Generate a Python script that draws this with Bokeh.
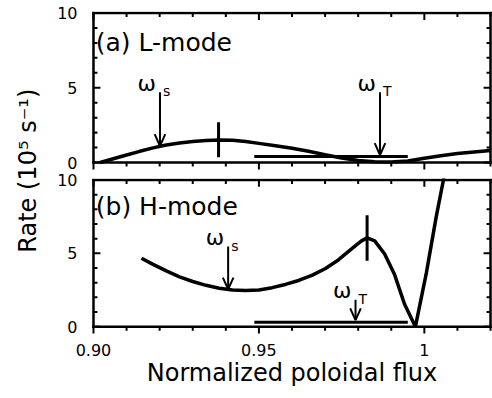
from bokeh.plotting import figure
from bokeh.layouts import row, column
from bokeh.models import Range1d, FixedTicker, Label
from bokeh.core.properties import value
from bokeh.embed import file_html
from bokeh.resources import INLINE

FONT = "DejaVu Sans"

# ---------------- data ----------------
x_major = [0.90, 0.95, 1.00]
x_labels = ["0.90", "0.95", "1"]
x_minor = [0.91, 0.92, 0.93, 0.94, 0.96, 0.97, 0.98, 0.99, 1.01, 1.02]
y_major = [0, 5, 10]
y_labels = ["0", "5", "10"]
y_minor = [1, 2, 3, 4, 6, 7, 8, 9]
X_LO, X_HI = 0.90, 1.02
Y_LO, Y_HI = 0, 10

# (a) L-mode
l_flux = [0.902, 0.906, 0.910, 0.914, 0.918, 0.922, 0.926, 0.930, 0.934, 0.938,
          0.942, 0.946, 0.950, 0.955, 0.960, 0.965, 0.970, 0.975, 0.980, 0.985,
          0.990, 0.995, 1.000, 1.005, 1.010, 1.015, 1.020]
l_rate = [0.00, 0.25, 0.50, 0.75, 0.98, 1.17, 1.31, 1.41, 1.48, 1.51,
          1.49, 1.40, 1.28, 1.12, 0.95, 0.75, 0.52, 0.30, 0.13, 0.05,
          0.04, 0.10, 0.28, 0.46, 0.60, 0.71, 0.80]
l_shear_flux = [0.9486, 0.995]
l_shear_rate = [0.40, 0.40]
l_peak_x = [0.9378]
l_peak_y0 = [0.36]
l_peak_y1 = [2.7]
l_ws_x, l_ws_top, l_ws_tip = 0.9201, 4.7, 1.10
l_wt_x, l_wt_top, l_wt_tip = 0.9866, 4.7, 0.50

# (b) H-mode
h_flux = [0.9145, 0.918, 0.922, 0.926, 0.930, 0.934, 0.938, 0.942, 0.946, 0.950,
          0.954, 0.958, 0.962, 0.966, 0.970, 0.974, 0.978, 0.981, 0.9827, 0.985,
          0.988, 0.991, 0.994, 0.9973, 1.0006, 1.0036, 1.0062]
h_rate = [4.67, 4.25, 3.80, 3.40, 3.08, 2.82, 2.62, 2.50, 2.46, 2.50,
          2.66, 2.88, 3.15, 3.50, 3.95, 4.55, 5.30, 5.85, 6.05, 5.85,
          4.95, 3.55, 1.55, 0.00, 3.65, 7.50, 10.5]
h_shear_flux = [0.9486, 0.995]
h_shear_rate = [0.30, 0.30]
h_peak_x = [0.9827]
h_peak_y0 = [4.5]
h_peak_y1 = [7.6]
h_ws_x, h_ws_top, h_ws_tip = 0.9407, 5.46, 2.55
h_wt_x, h_wt_top, h_wt_tip = 0.9792, 1.84, 0.45

# ---------------- styles / sizes (in axis units) ----------------
PAD_X = 0.0006        # room so the box edges are not clipped
PAD_TOP = 0.1
PAD_BOTTOM = 0.6      # room for the outward ticks below the box
EDGE_X, EDGE_Y = 0.00038, 0.085            # half thickness of the box edges
TW_X, TW_Y = 0.0003, 0.068                 # half thickness of the ticks
TICK_Y, TICK_Y_MINOR = 0.47, 0.27          # tick lengths along rate
TICK_X, TICK_X_MINOR = 0.0021, 0.0012      # tick lengths along flux
HEAD_W = 0.0016       # arrow head half width
HEAD_H = 0.80         # arrow head height


def label_axis(ax, ticks, names, standoff):
    ax.ticker = FixedTicker(ticks=ticks)
    ax.major_label_overrides = {v: s for v, s in zip(ticks, names)}
    ax.major_label_text_font = FONT
    ax.major_label_text_font_size = "16px"
    ax.major_label_text_color = "black"
    ax.major_label_standoff = standoff
    ax.axis_line_color = None
    ax.major_tick_line_color = None
    ax.minor_tick_line_color = None
    ax.major_tick_in = 0
    ax.major_tick_out = 0
    ax.minor_tick_in = 0
    ax.minor_tick_out = 0


def frame_and_ticks(p):
    # box edges as filled bars
    p.quad(left=[X_LO - EDGE_X, X_LO - EDGE_X, X_LO - EDGE_X, X_HI - EDGE_X],
           right=[X_HI + EDGE_X, X_HI + EDGE_X, X_LO + EDGE_X, X_HI + EDGE_X],
           bottom=[Y_LO - EDGE_Y, Y_HI - EDGE_Y, Y_LO - EDGE_Y, Y_LO - EDGE_Y],
           top=[Y_LO + EDGE_Y, Y_HI + EDGE_Y, Y_HI + EDGE_Y, Y_HI + EDGE_Y],
           fill_color="black", line_color=None)
    xt = x_major + x_minor
    xl = [TICK_Y] * len(x_major) + [TICK_Y_MINOR] * len(x_minor)
    # top (inward) and bottom (outward) ticks
    p.quad(left=[x - TW_X for x in xt], right=[x + TW_X for x in xt],
           bottom=[Y_HI - l for l in xl], top=[Y_HI] * len(xt),
           fill_color="black", line_color=None)
    p.quad(left=[x - TW_X for x in xt], right=[x + TW_X for x in xt],
           bottom=[Y_LO - l for l in xl], top=[Y_LO] * len(xt),
           fill_color="black", line_color=None)
    yt = y_major + y_minor
    yl = [TICK_X] * len(y_major) + [TICK_X_MINOR] * len(y_minor)
    # left and right (inward) ticks
    p.quad(left=[X_LO] * len(yt), right=[X_LO + l for l in yl],
           bottom=[y - TW_Y for y in yt], top=[y + TW_Y for y in yt],
           fill_color="black", line_color=None)
    p.quad(left=[X_HI - l for l in yl], right=[X_HI] * len(yt),
           bottom=[y - TW_Y for y in yt], top=[y + TW_Y for y in yt],
           fill_color="black", line_color=None)


def panel(height, top, bottom, show_x):
    p = figure(width=444, height=height,
               x_range=Range1d(X_LO - PAD_X, X_HI + PAD_X),
               y_range=Range1d(Y_LO - PAD_BOTTOM, Y_HI + PAD_TOP),
               output_backend="svg", toolbar_location=None,
               x_axis_location="below" if show_x else None,
               min_border_left=43, min_border_right=0,
               min_border_top=top, min_border_bottom=bottom)
    p.grid.visible = False
    p.outline_line_color = None
    label_axis(p.yaxis[0], y_major, y_labels, 14)
    if show_x:
        ax = p.xaxis[0]
        label_axis(ax, x_major, x_labels, 8)
        ax.axis_label = "Normalized poloidal flux"
        ax.axis_label_text_font = FONT
        ax.axis_label_text_font_size = "24px"
        ax.axis_label_text_font_style = "normal"
        ax.axis_label_text_color = "black"
        ax.axis_label_standoff = 0
    frame_and_ticks(p)
    return p


def omega(p, x, top, tip, sub):
    p.segment(x0=[x], y0=[top], x1=[x], y1=[tip], line_width=2, line_color="black")
    p.line([x - HEAD_W, x, x + HEAD_W], [tip + HEAD_H, tip, tip + HEAD_H],
           line_width=2, line_color="black")
    p.text(x=[x], y=[top], text=["ω"], text_font=value(FONT), text_font_size="22px",
           text_align="right", text_baseline="alphabetic", x_offset=-4, y_offset=-9,
           text_color="black")
    p.text(x=[x], y=[top], text=[sub], text_font=value(FONT), text_font_size="14px",
           text_align="left", text_baseline="alphabetic", x_offset=3, y_offset=-1,
           text_color="black")


fa = panel(172, 11, 1, False)
fa.line(l_flux, l_rate, line_width=3.5, line_color="black")
fa.line(l_shear_flux, l_shear_rate, line_width=3, line_color="black")
fa.segment(x0=l_peak_x, y0=l_peak_y0, x1=l_peak_x, y1=l_peak_y1, line_width=3, line_color="black")
omega(fa, l_ws_x, l_ws_top, l_ws_tip, "s")
omega(fa, l_wt_x, l_wt_top, l_wt_tip, "T")
fa.add_layout(Label(x=0.9007, y=8.05, text="(a) L-mode", text_font=FONT, text_font_size="25px",
                    text_baseline="alphabetic", text_align="left", text_color="black"))

fb = panel(221, 6, 58, True)
fb.line(h_flux, h_rate, line_width=3.5, line_color="black")
fb.line(h_shear_flux, h_shear_rate, line_width=3, line_color="black")
fb.segment(x0=h_peak_x, y0=h_peak_y0, x1=h_peak_x, y1=h_peak_y1, line_width=3, line_color="black")
omega(fb, h_ws_x, h_ws_top, h_ws_tip, "s")
omega(fb, h_wt_x, h_wt_top, h_wt_tip, "T")
fb.add_layout(Label(x=0.9007, y=8.18, text="(b) H-mode", text_font=FONT, text_font_size="25px",
                    text_baseline="alphabetic", text_align="left", text_color="black"))

ylab = figure(width=48, height=393, x_range=Range1d(0, 1), y_range=Range1d(0, 1),
              output_backend="svg", toolbar_location=None,
              x_axis_location=None, y_axis_location=None, min_border=0)
ylab.outline_line_color = None
ylab.grid.visible = False
ylab.add_layout(Label(x=0.583, y=0.567, text="Rate (10⁵ s⁻¹)", angle=90, angle_units="deg",
                      text_align="center", text_baseline="middle", text_font=FONT,
                      text_font_size="24px", text_color="black"))

layout = row(ylab, column(fa, fb))
open("out.html", "w").write(file_html(layout, INLINE))
